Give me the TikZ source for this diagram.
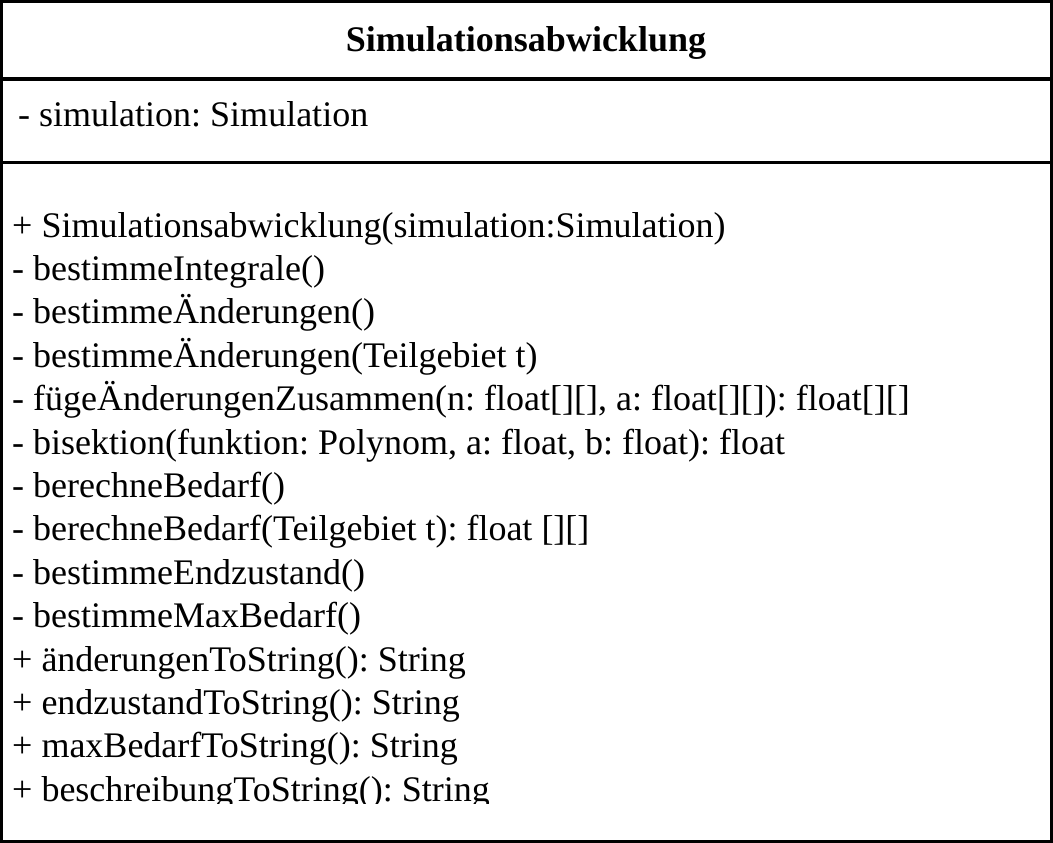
\documentclass[tikz,border=0pt]{standalone}
\usepackage{fontspec}
\setmainfont{Liberation Serif}
\usetikzlibrary{positioning}
\frenchspacing

\begin{document}
\begin{tikzpicture}[
  x=1pt, y=-1pt,
  font=\fontsize{36}{42}\selectfont,
  frame/.style={draw=black,line width=3.2pt},
  title/.style={font=\fontsize{36}{42}\selectfont\bfseries,anchor=base,inner sep=0pt},
  member/.style={anchor=north west,inner sep=0pt,text height=31pt,text depth=12pt},
]
\useasboundingbox (0,0) rectangle (1053,843);
\fill[white] (0,0) rectangle (1053,843);

% class name
\node[title] (name) at (526,52) {Simulationsabwicklung};

% attributes
\node[member, anchor=base west] (attr) at (18,127) {- simulation: Simulation};

% methods
\begin{scope}
\clip (0,0) rectangle (1053,803);
\node[member, anchor=base west] (m1) at (12,237) {+ Simulationsabwicklung(simulation:Simulation)};
\node[member, below=0pt of m1.south west, anchor=north west] (m2) {- bestimmeIntegrale()};
\node[member, below=0pt of m2.south west, anchor=north west] (m3) {- bestimmeÄnderungen()};
\node[member, below=0pt of m3.south west, anchor=north west] (m4) {- bestimmeÄnderungen(Teilgebiet t)};
\node[member, below=0pt of m4.south west, anchor=north west] (m5) {- fügeÄnderungenZusammen(n: float[][], a: float[][]): float[][]};
\node[member, below=0pt of m5.south west, anchor=north west] (m6) {- bisektion(funktion: Polynom, a: float, b: float): float};
\node[member, below=0pt of m6.south west, anchor=north west] (m7) {- berechneBedarf()};
\node[member, below=0pt of m7.south west, anchor=north west] (m8) {- berechneBedarf(Teilgebiet t): float [][]};
\node[member, below=0pt of m8.south west, anchor=north west] (m9) {- bestimmeEndzustand()};
\node[member, below=0pt of m9.south west, anchor=north west] (m10) {- bestimmeMaxBedarf()};
\node[member, below=0pt of m10.south west, anchor=north west] (m11) {+ änderungenToString(): String};
\node[member, below=0pt of m11.south west, anchor=north west] (m12) {+ endzustandToString(): String};
\node[member, below=0pt of m12.south west, anchor=north west] (m13) {+ maxBedarfToString(): String};
\node[member, below=0pt of m13.south west, anchor=north west] (m14) {+ beschreibungToString(): String};
\end{scope}

% compartments
\draw[frame] (1.6,1.6) rectangle (1051.4,841.4);
\draw[frame] (0,79) -- (1053,79);
\draw[frame] (0,162.5) -- (1053,162.5);
\end{tikzpicture}
\end{document}
